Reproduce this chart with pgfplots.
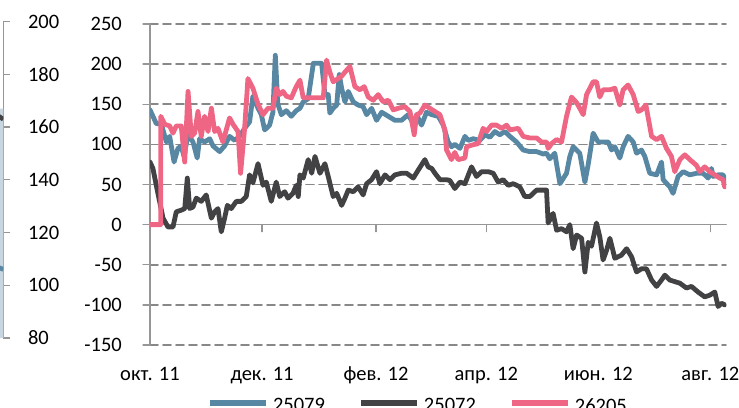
\documentclass[border=0pt]{standalone}
\usepackage{pgfplots}
\pgfplotsset{compat=1.18}
\usepackage{fontspec}
\setmainfont{Carlito}
\definecolor{cblue}{RGB}{87,135,163}
\definecolor{cdark}{RGB}{66,66,68}
\definecolor{cpink}{RGB}{238,102,132}
\definecolor{cgrid}{RGB}{136,136,136}
\definecolor{caxis}{RGB}{150,150,150}
\definecolor{cband}{RGB}{200,214,226}
\newcommand\cf{\fontsize{20.5}{24}\selectfont}
\begin{document}
\begin{tikzpicture}
% fragment of the neighbouring chart (its right axis)
\begin{axis}[
  at={(3.3pt,69pt)}, anchor=south east,
  width=60pt, height=316.3pt, scale only axis,
  xmin=0, xmax=10, ymin=80, ymax=200,
  axis x line=none, axis y line*=right,
  y axis line style={draw=caxis, line width=1.3pt},
  ytick={80,100,...,200},
  tick align=outside, major tick length=7pt,
  ytick style={draw=caxis, line width=1.3pt},
  yticklabel style={font=\cf, anchor=west, inner sep=0pt, xshift=17.5pt},
  /pgf/number format/assume math mode=true,
]
\addplot[fill=cband, draw=none] coordinates {(0,80) (0,167) (10,167) (10,80)} \closedcycle;
\addplot[cdark, line width=4.6pt] coordinates {(8,166) (10,163)};
\addplot[cblue, line width=4.6pt] coordinates {(8,108) (10,106)};
\end{axis}

\begin{axis}[
  at={(150pt,62pt)}, anchor=south west,
  width=576pt, height=321pt, scale only axis,
  xmin=0, xmax=313.5, ymin=-150, ymax=250,
  axis y line*=left, axis x line*=bottom,
  x axis line style={draw=none},
  y axis line style={draw=caxis, line width=1.3pt},
  xtick={0,61,123,183,244,305},
  xticklabels={окт. 11, дек. 11, фев. 12, апр. 12, июн. 12, авг. 12},
  xtick style={draw=none},
  ytick={-150,-100,...,250},
  yticklabels={-150,-100,-50,0,50,100,150,200,250},
  tick align=outside, major tick length=7pt,
  ytick style={draw=caxis, line width=1.3pt},
  ymajorgrids,
  grid style={draw=cgrid, line width=1.6pt, dash pattern=on 8pt off 5pt},
  xticklabel style={font=\cf, anchor=base, inner sep=0pt, yshift=-28pt},
  yticklabel style={font=\cf, anchor=east, inner sep=0pt, xshift=-21pt},
  legend columns=3,
  legend style={at={(axis description cs:0.099,-0.19)}, anchor=west, draw=none, fill=none,
    inner sep=0pt, outer sep=0pt, nodes={inner sep=0pt, font=\cf}},
  /tikz/every odd column/.append style={column sep=4pt},
  /tikz/every even column/.append style={column sep=33pt},
  legend image code/.code={\draw[#1, line width=6pt] (0pt,3pt) -- (56pt,3pt);},
  line join=round, line cap=round,
]
\draw[caxis, line width=1.3pt] (axis cs:0,0) -- (axis cs:313.5,0);
\pgfplotsinvokeforeach{61,123,183,244,305}{\draw[caxis, line width=1.3pt] (axis cs:#1,0) -- ++(0pt,-7pt);}
\addplot[cblue, line width=4.8pt] coordinates {
(0,143)(3.4,126)(6.2,125)(8.9,103)(10.7,110)(13.1,78)(15.2,95)(17,98)(18.5,85)(20.7,112)(23.4,103)(25.7,83)(27,107)(29.7,103)(32.5,107)(34.3,98)(37.9,91)(40.6,98)(43.3,110)(46.1,105)(48.8,110)(51.5,120)(54.2,128)(56,160)(58.8,145)(60.6,137)(62.4,118)(65.1,124)(66.9,140)(68.2,211)(69.6,150)(71.5,137)(74.2,142)(76.9,135)(79.6,142)(81.6,145)(83.4,153)(86.1,157)(88.9,201)(93.4,201)(95.2,162)(97,162)(97.9,139)(99.7,145)(101.6,149)(103,187)(104.3,170)(106.1,153)(107.9,166)(110.6,153)(113.3,149)(116,147)(117.9,137)(120.6,145)(123.3,130)(126.1,140)(129.7,135)(133.3,130)(136.9,130)(140.5,137)(143.3,126)(145.1,137)(147.8,124)(150.5,140)(153.3,137)(156.9,135)(159.6,124)(162.3,103)(164.1,97)(165.9,100)(168.7,95)(171.4,110)(173.2,105)(175.9,107)(179.5,105)(182.3,112)(185,109)(187.7,116)(190.4,112)(193.1,116)(195.9,110)(199.5,103)(203.1,93)(206.7,91)(210.4,91)(214,88)(215.8,89)(217.6,82)(220.3,89)(223.1,51)(226.7,64)(228.5,85)(230.3,97)(233.9,89)(236.7,53)(238.5,75)(241.2,114)(243.9,103)(246.6,103)(249.4,103)(251.2,93)(253,97)(255.7,83)(257.5,97)(260.2,110)(263,103)(264.8,89)(267.5,93)(269.3,85)(272,64)(275.7,62)(278.4,78)(279.3,56)(282.9,47)(284.7,39)(287.4,60)(290.2,66)(293.8,62)(297.4,64)(301,64)(303.8,58)(305.6,70)(306.5,60)(309.2,62)(311.9,62)(313.4,54)};
\addlegendentry{25079}
\addplot[cdark, line width=4.8pt] coordinates {
(0,78)(1.6,70)(3.4,49)(5.3,28)(7.1,8)(9.8,-3)(12.5,-3)(14.3,16)(17,18)(18.9,20)(20.3,58)(21.6,20)(23.4,22)(25.2,33)(27.9,29)(30.6,37)(33.4,8)(35.2,16)(37,20)(38.8,-9)(40.6,8)(42.1,24)(44.2,20)(47,29)(49.7,29)(52.4,35)(54.2,62)(56,52)(58.8,76)(61.5,49)(63.3,53)(66,29)(68.7,53)(70.6,35)(73.3,41)(75.1,33)(77.8,39)(79.6,49)(80.7,35)(81.6,62)(83.4,58)(86.1,81)(88,64)(89.8,85)(92.5,64)(95.2,76)(97,60)(99.7,35)(101.6,39)(104.3,24)(106.1,33)(107.9,43)(110.6,41)(113.3,47)(116,37)(117.9,51)(120.6,56)(123.3,66)(125.1,51)(127.9,62)(130.6,56)(133.3,62)(136.9,64)(139.7,64)(143.3,58)(146,68)(149.6,81)(151.4,72)(153.3,70)(155.1,64)(157.8,56)(161.4,56)(163.2,55)(165.9,45)(168.7,53)(171.4,51)(175,72)(177.7,60)(180.5,66)(184.1,66)(186.8,64)(189.5,53)(192.2,56)(195,49)(197.7,51)(201.3,47)(204,35)(206.7,35)(210.4,43)(214,43)(215.8,43)(216.7,2)(219.4,14)(221.3,-7)(224,-5)(226.7,-9)(228.5,0)(230.3,-30)(232.2,-13)(234.9,-17)(236.7,-59)(238.5,-22)(240.3,-27)(243,2)(244.8,-15)(246.6,-44)(248.5,-32)(250.3,-17)(253,-42)(256.6,-38)(259.4,-30)(262.1,-40)(264.8,-59)(267.5,-55)(270.2,-55)(273,-69)(275.7,-77)(278.4,-69)(280.2,-63)(282.9,-69)(285.6,-71)(288.4,-73)(292,-79)(294.7,-77)(298.3,-84)(301.9,-90)(304.6,-88)(307.4,-84)(309.2,-102)(311,-98)(312.8,-100)};
\addlegendentry{25072}
\addplot[cpink, line width=4.8pt] coordinates {
(0,0)(5.8,0)(5.9,135)(8,125)(10.7,123)(12.5,114)(14.3,123)(17,123)(18.9,78)(20.7,166)(22.5,110)(24.3,114)(26.1,141)(27.9,110)(29.7,135)(31.6,116)(33.4,145)(35.2,116)(37,120)(39.7,103)(43.3,133)(45.2,125)(47.9,116)(49.3,64)(51.5,120)(53.3,182)(56,170)(58.8,150)(61.5,137)(64.2,145)(66.9,145)(68.7,170)(70.6,162)(72.4,166)(74.2,160)(76.9,158)(79.6,172)(81.6,180)(83.4,158)(88,158)(94.3,158)(96.1,205)(97.9,190)(99.7,178)(102.4,182)(104.3,185)(106.1,190)(108.8,197)(111.5,172)(114.3,168)(116.6,172)(118.8,159)(121.5,155)(124.2,162)(126.9,153)(129.7,155)(132.4,143)(135.1,145)(138.7,147)(141.5,141)(143.8,112)(145.1,137)(146.9,139)(149.6,149)(152.3,145)(157.8,137)(160.5,118)(161.4,93)(164.1,81)(165.9,90)(167.7,81)(171.4,83)(172.3,97)(175,99)(178.6,101)(181.3,120)(183.2,116)(185.9,124)(188.6,124)(191.4,120)(194.1,124)(195.9,118)(200.4,120)(203.1,110)(206.7,108)(210.4,108)(213.1,103)(215.8,103)(216.7,95)(218.6,101)(221.3,106)(224,103)(226.7,135)(229.4,159)(232.2,152)(235.8,137)(237.6,162)(241.2,178)(243,178)(244.8,159)(246.6,168)(250.3,168)(253,170)(255.7,149)(257.5,168)(260.2,174)(263,162)(265.7,141)(267.5,143)(269.9,149)(273,110)(275.7,106)(278.4,110)(281.1,95)(283.8,85)(285.6,66)(288.4,81)(291.1,87)(293.8,81)(297.4,74)(299.2,66)(301.9,72)(304.6,66)(307.4,62)(310.1,58)(311.9,56)(312.8,47)};
\addlegendentry{26205}
\end{axis}
\pgfresetboundingbox
\path[use as bounding box] (0pt,0pt) rectangle (739pt,407pt);
\end{tikzpicture}
\end{document}
